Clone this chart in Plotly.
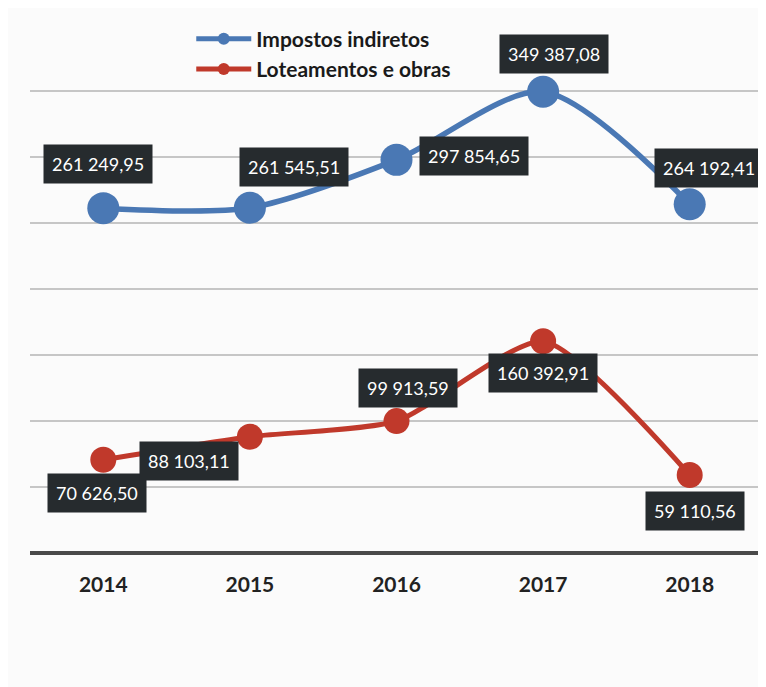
import plotly.graph_objects as go

years = ["2014", "2015", "2016", "2017", "2018"]
impostos = [261249.95, 261545.51, 297854.65, 349387.08, 264192.41]
loteamentos = [70626.50, 88103.11, 99913.59, 160392.91, 59110.56]
impostos_labels = ["261 249,95", "261 545,51", "297 854,65", "349 387,08", "264 192,41"]
loteamentos_labels = ["70 626,50", "88 103,11", "99 913,59", "160 392,91", "59 110,56"]

BLUE = "#4a78b4"
RED = "#c0392b"
BOX = "#262b2e"

# label box offsets (px) relative to each point
impostos_shift = [(-5, 44), (44, 41), (77, 4), (11, 38), (19, 36)]
loteamentos_shift = [(-6, -33), (-61, -24), (11, 33), (0, -32), (5, -36)]

xpos = list(range(len(years)))

fig = go.Figure()
fig.add_trace(go.Scatter(
    x=xpos, y=impostos, name="Impostos indiretos", mode="lines+markers",
    line=dict(color=BLUE, width=5.5, shape="spline", smoothing=0.8),
    marker=dict(color=BLUE, size=32),
))
fig.add_trace(go.Scatter(
    x=xpos, y=loteamentos, name="Loteamentos e obras", mode="lines+markers",
    line=dict(color=RED, width=5, shape="spline", smoothing=0.6),
    marker=dict(color=RED, size=26),
))

annotations = []
for vals, labels, shifts in [(impostos, impostos_labels, impostos_shift),
                             (loteamentos, loteamentos_labels, loteamentos_shift)]:
    for i, (v, t) in enumerate(zip(vals, labels)):
        dx, dy = shifts[i]
        annotations.append(dict(
            x=xpos[i], y=v, xref="x", yref="y", text=t, showarrow=False,
            xanchor="center", yanchor="middle", xshift=dx, yshift=dy,
            bgcolor=BOX, borderpad=8,
            font=dict(family="Lato", size=18, color="white"),
        ))

# the page body has an 8px margin, so the figure is a bit smaller than the window
fig.update_layout(
    width=758, height=679,
    margin=dict(l=22, r=3, t=17, b=134),
    paper_bgcolor="#fbfbfb", plot_bgcolor="#fbfbfb",
    showlegend=True,
    legend=dict(
        x=0.22, y=1.012, xanchor="left", yanchor="top",
        bgcolor="rgba(0,0,0,0)", itemsizing="constant", itemwidth=55,
        font=dict(family="Lato", size=21, color="#1a1a1a", weight="bold"),
        tracegroupgap=0,
    ),
    annotations=annotations,
)
fig.update_xaxes(
    range=[-0.5, len(years) - 0.5], tickvals=xpos, ticktext=years,
    showgrid=False, zeroline=False, showline=False,
    ticks="outside", ticklen=13, tickcolor="rgba(0,0,0,0)",
    tickfont=dict(family="Lato", size=21, color="#222", weight="bold"),
)
fig.update_yaxes(
    range=[0, 400000], dtick=50000, showticklabels=False,
    showgrid=True, gridcolor="#c6c6c6", gridwidth=1.5,
    zeroline=True, zerolinecolor="#4a4a4a", zerolinewidth=3.5,
)

fig.write_html("out.html")
